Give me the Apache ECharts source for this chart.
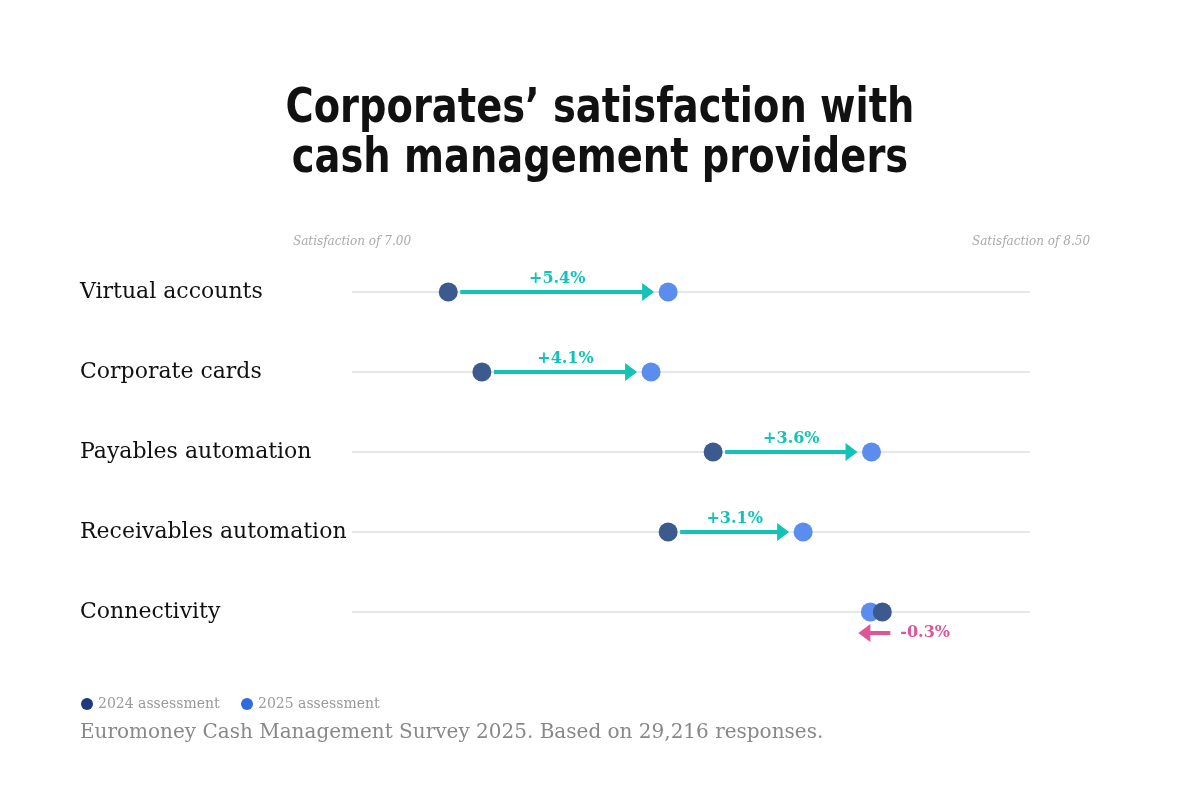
<!DOCTYPE html>
<html>
<head>
<meta charset="utf-8">
<script src="https://cdn.jsdelivr.net/npm/echarts@6/dist/echarts.min.js"></script>
<style>html,body{margin:0;background:#fff}#chart{width:1200px;height:800px}</style>
</head>
<body>
<div id="chart"></div>
<script>
var categories = ['Virtual accounts', 'Corporate cards', 'Payables automation', 'Receivables automation', 'Connectivity']
var score2024 = [7.169, 7.228, 7.634, 7.555, 7.931]
var score2025 = [7.555, 7.525, 7.912, 7.792, 7.910]
var changeLabels = ['+5.4%', '+4.1%', '+3.6%', '+3.1%', '-0.3%']

var serif = "'DejaVu Serif', 'Liberation Serif', serif"
var teal = '#14c3b8', pink = '#e0559a'
var chart = echarts.init(document.getElementById('chart'))

chart.setOption({
  animation: false,
  grid: { left: 352, right: 169, top: 252, bottom: 148 },
  xAxis: { type: 'value', min: 7.0, max: 8.192, show: false },
  yAxis: {
    type: 'category', data: categories, inverse: true,
    axisLine: { show: false }, axisTick: { show: false },
    axisLabel: { align: 'left', margin: 272, fontFamily: serif, fontSize: 22, color: '#111' }
  },
  graphic: [
    { type: 'text', x: 600, y: 135, scaleX: 0.8, style: { text: 'Corporates\u2019 satisfaction with\ncash management providers', fontFamily: "'DejaVu Sans', sans-serif", fontWeight: 'bold', fontSize: 48, lineHeight: 50, align: 'center', verticalAlign: 'middle', fill: '#111' } },
    { type: 'text', x: 352, y: 242, style: { text: 'Satisfaction of 7.00', fontFamily: serif, fontStyle: 'italic', fontSize: 12, fill: '#aaa', align: 'center', verticalAlign: 'middle' } },
    { type: 'text', x: 1031, y: 242, style: { text: 'Satisfaction of 8.50', fontFamily: serif, fontStyle: 'italic', fontSize: 12, fill: '#aaa', align: 'center', verticalAlign: 'middle' } },
    { type: 'circle', shape: { cx: 87, cy: 704, r: 6 }, style: { fill: '#1e3a7a' } },
    { type: 'text', x: 98, y: 704, style: { text: '2024 assessment', fontFamily: serif, fontSize: 14, fill: '#999', verticalAlign: 'middle' } },
    { type: 'circle', shape: { cx: 247, cy: 704, r: 6 }, style: { fill: '#2f6ae0' } },
    { type: 'text', x: 258, y: 704, style: { text: '2025 assessment', fontFamily: serif, fontSize: 14, fill: '#999', verticalAlign: 'middle' } },
    { type: 'text', x: 80, y: 733, style: { text: 'Euromoney Cash Management Survey 2025. Based on 29,216 responses.', fontFamily: serif, fontSize: 20, fill: '#888', verticalAlign: 'middle' } }
  ],
  series: [
    {
      type: 'custom', z: 1,
      data: categories.map(function (c, i) { return [i, score2024[i], score2025[i]] }),
      renderItem: function (params, api) {
        var i = api.value(0)
        var p1 = api.coord([api.value(1), i]), p2 = api.coord([api.value(2), i])
        var y = p1[1]
        var children = [{ type: 'line', shape: { x1: 352, y1: y, x2: 1030, y2: y }, style: { stroke: '#dde0e4', lineWidth: 1.5 } }]
        if (p2[0] > p1[0]) {
          var xs = p1[0] + 12, xe = p2[0] - 14
          children.push(
            { type: 'line', shape: { x1: xs, y1: y, x2: xe - 10, y2: y }, style: { stroke: teal, lineWidth: 4 } },
            { type: 'polygon', shape: { points: [[xe - 12, y - 9], [xe, y], [xe - 12, y + 9]] }, style: { fill: teal } },
            { type: 'text', x: (xs + xe) / 2, y: y - 13, style: { text: changeLabels[i], fontFamily: serif, fontWeight: 'bold', fontSize: 16, fill: teal, align: 'center', verticalAlign: 'middle' } }
          )
        } else {
          var yy = y + 21, xa = p1[0] + 8, xb = p2[0] - 12
          children.push(
            { type: 'line', shape: { x1: xa, y1: yy, x2: xb + 10, y2: yy }, style: { stroke: pink, lineWidth: 4 } },
            { type: 'polygon', shape: { points: [[xb + 12, yy - 9], [xb, yy], [xb + 12, yy + 9]] }, style: { fill: pink } },
            { type: 'text', x: xa + 10, y: yy, style: { text: changeLabels[i], fontFamily: serif, fontWeight: 'bold', fontSize: 16, fill: pink, verticalAlign: 'middle' } }
          )
        }
        return { type: 'group', children: children }
      }
    },
    { type: 'scatter', z: 3, symbolSize: 19, itemStyle: { color: '#5b8def', opacity: 1 }, data: score2025.map(function (v, i) { return [v, i] }) },
    { type: 'scatter', z: 4, symbolSize: 19, itemStyle: { color: '#3d5a8e', opacity: 1 }, data: score2024.map(function (v, i) { return [v, i] }) }
  ]
})
</script>
</body>
</html>
